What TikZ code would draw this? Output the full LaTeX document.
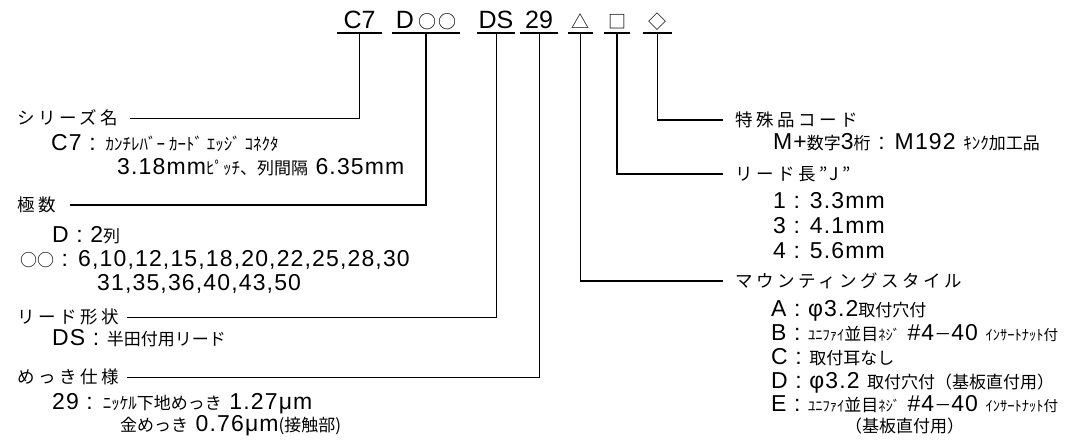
\documentclass[tikz,border=0pt]{standalone}
\usepackage{fontspec}
\setmainfont{Liberation Sans}
\newfontfamily\latw{Liberation Sans}[LetterSpace=5]
\newfontfamily\jpf{Noto Sans CJK JP}
\newfontfamily\jphd{Noto Sans CJK JP}[LetterSpace=20]
\newcommand{\jk}[1]{{\fontsize{17}{18}\selectfont\jpf #1}}
\newcommand{\jh}[1]{{\fontsize{17}{18}\selectfont\jpf #1}}
\newcommand{\jhs}[1]{{\fontsize{14.5}{16}\selectfont\jpf #1}}
\newcommand{\jsym}[1]{{\fontsize{18}{20}\selectfont\jpf #1}}
\tikzset{
  codetxt/.style={anchor=base, inner sep=0pt, font=\fontsize{25}{28}\selectfont},
  head/.style={anchor=west, inner sep=0pt, font=\fontsize{17.5}{20}\selectfont\jphd},
  sub/.style={anchor=base west, inner sep=0pt, font=\fontsize{23}{26}\selectfont\latw},
  conn/.style={line width=1.3pt},
  thinconn/.style={line width=0.9pt},
  uline/.style={line width=1.5pt},
}
\begin{document}
\begin{tikzpicture}[x=1pt,y=-1pt]
\useasboundingbox (0,0) rectangle (1065,439);
\fill[white] (0,0) rectangle (1065,439);
\clip (0,0) rectangle (1065,439);

% code line
\node[codetxt, minimum width=45pt] (c7) at (359.5,28) {C7};
\node[codetxt, minimum width=68pt] (cD) at (426,28) {D\,\jsym{○\hspace{2pt}○}};
\node[codetxt, minimum width=38pt] (cDS) at (496,28) {DS};
\node[codetxt, minimum width=37pt] (c29) at (539,28) {29};
\node[codetxt, minimum width=25pt] (ctri) at (580.5,28) {\jsym{△}};
\node[codetxt, minimum width=26pt] (csq) at (617,28) {\jsym{□}};
\node[codetxt, minimum width=29pt] (cdia) at (657.5,28) {\jsym{◇}};
\foreach \n in {c7,cD,cDS,c29,ctri,csq,cdia}
  \draw[uline] ([yshift=-5pt]\n.base west) -- ([yshift=-5pt]\n.base east);

% left labels
\node[head] (l1) at (17,118) {シリーズ名};
\node[sub] (t1a) at (51,150) {C7 : \jh{ｶﾝﾁﾚﾊﾞｰ ｶｰﾄﾞ ｴｯｼﾞ ｺﾈｸﾀ}};
\node[sub] (t1b) at (117,174) {3.18mm\jh{ﾋﾟｯﾁ、}\jk{列間隔} 6.35mm};
\node[head] (l2) at (17,205) {極数};
\node[sub] (t2a) at (52,242) {D : 2\jk{列}};
\node[sub] (t2b) at (20,266) {\jk{○○} : 6,10,12,15,18,20,22,25,28,30};
\node[sub] (t2c) at (97,290) {31,35,36,40,43,50};
\node[head] (l3) at (17,317) {リード形状};
\node[sub] (t3a) at (52,345) {DS : \jk{半田付用リード}};
\node[head] (l4) at (17,377) {めっき仕様};
\node[sub] (t4a) at (52,409) {29 : \jh{ﾆｯｹﾙ}\jk{下地めっき} 1.27μm};
\node[sub] (t4b) at (120,431) {\jk{金めっき} 0.76μm\jh{(接触部)}};

% right labels
\node[head] (r1) at (735,120) {特殊品コード};
\node[sub] (s1a) at (773,149) {M+\jk{数字}3\jk{桁} : M192 \jh{ｷﾝｸ}\jk{加工品}};
\node[head] (r2) at (735,174) {リード長”J”};
\node[sub] (s2a) at (773,208) {1 : 3.3mm};
\node[sub] (s2b) at (773,233) {3 : 4.1mm};
\node[sub] (s2c) at (773,258) {4 : 5.6mm};
\node[head] (r3) at (735,281) {マウンティングスタイル};
\node[sub] (s3a) at (771,316) {A : φ3.2\jk{取付穴付}};
\node[sub] (s3b) at (771,340) {B : \jhs{ﾕﾆﾌｧｲ}\jk{並目}\jhs{ﾈｼﾞ} \#4\jk{－}40 \jhs{ｲﾝｻｰﾄﾅｯﾄ付}};
\node[sub] (s3c) at (771,364) {C : \jk{取付耳なし}};
\node[sub] (s3d) at (771,388) {D : φ3.2 \jk{取付穴付（基板直付用）}};
\node[sub] (s3e) at (771,411) {E : \jhs{ﾕﾆﾌｧｲ}\jk{並目}\jhs{ﾈｼﾞ} \#4\jk{－}40 \jhs{ｲﾝｻｰﾄﾅｯﾄ付}};
\node[sub] (s3f) at (845,432.5) {\jk{（基板直付用）}};

% connectors
\draw[thinconn] ([yshift=-5pt]c7.base) |- ([xshift=12pt]l1.east);
\draw[conn] ([yshift=-5pt]cD.base) |- ([xshift=14pt]l2.east);
\draw[thinconn] ([yshift=-5pt]cDS.base) |- ([xshift=8pt]l3.east);
\draw[thinconn] ([yshift=-5pt]c29.base) |- ([xshift=8pt]l4.east);
\draw[conn] ([yshift=-5pt]ctri.base) |- ([xshift=-12pt]r3.west);
\draw[conn] ([yshift=-5pt]csq.base) |- ([xshift=-12pt]r2.west);
\draw[conn] ([yshift=-5pt]cdia.base) |- ([xshift=-12pt]r1.west);
\end{tikzpicture}
\end{document}
